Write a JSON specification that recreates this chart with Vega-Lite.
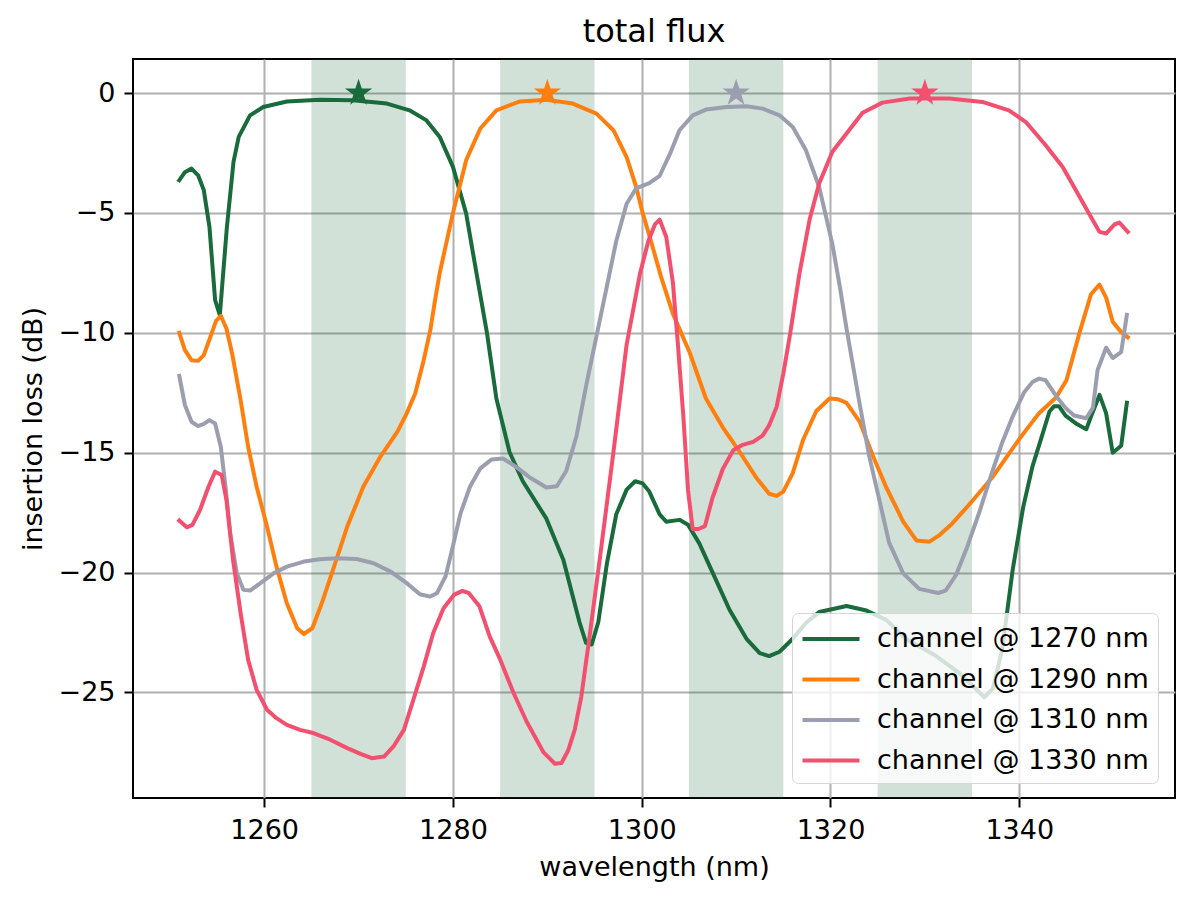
{
  "$schema": "https://vega.github.io/schema/vega-lite/v6.json",
  "width": 1042,
  "height": 739,
  "autosize": {"type": "none"},
  "padding": {"left": 133, "top": 59, "right": 18, "bottom": 103},
  "background": "white",
  "title": {"text": "total flux", "fontSize": 32, "font": "DejaVu Sans", "fontWeight": "normal", "color": "black", "anchor": "middle", "offset": 16, "dy": 31, "baseline": "alphabetic"},
  "config": {
    "font": "DejaVu Sans",
    "view": {"stroke": "black", "strokeWidth": 2},
    "axis": {"domain": false, "grid": true, "gridColor": "#b0b0b0", "gridWidth": 2, "tickColor": "black", "tickWidth": 2, "tickSize": 9, "labelFont": "DejaVu Sans", "labelFontSize": 27, "labelColor": "black", "titleFont": "DejaVu Sans", "titleFontSize": 27, "titleFontWeight": "normal", "titleColor": "black", "labelFlush": false, "labelOverlap": false},
    "axisX": {"labelPadding": 10, "titlePadding": 11},
    "axisY": {"labelPadding": 9, "titlePadding": 11}
  },
  "datasets": {
    "bands": [
      {"start": 1265, "end": 1275},
      {"start": 1285, "end": 1295},
      {"start": 1305, "end": 1315},
      {"start": 1325, "end": 1335}
    ],
    "stars": [
      {"channel": "channel @ 1270 nm", "wl": 1270, "loss": 0},
      {"channel": "channel @ 1290 nm", "wl": 1290, "loss": 0},
      {"channel": "channel @ 1310 nm", "wl": 1310, "loss": 0},
      {"channel": "channel @ 1330 nm", "wl": 1330, "loss": 0}
    ],
    "curves": [
      {"channel": "channel @ 1270 nm", "wl": 1251.0, "loss": -3.64},
      {"channel": "channel @ 1270 nm", "wl": 1251.6, "loss": -3.3},
      {"channel": "channel @ 1270 nm", "wl": 1252.3, "loss": -3.15},
      {"channel": "channel @ 1270 nm", "wl": 1253.0, "loss": -3.43},
      {"channel": "channel @ 1270 nm", "wl": 1253.6, "loss": -4.05},
      {"channel": "channel @ 1270 nm", "wl": 1254.2, "loss": -5.58},
      {"channel": "channel @ 1270 nm", "wl": 1254.8, "loss": -8.64},
      {"channel": "channel @ 1270 nm", "wl": 1255.3, "loss": -9.26},
      {"channel": "channel @ 1270 nm", "wl": 1256.05, "loss": -5.58},
      {"channel": "channel @ 1270 nm", "wl": 1256.75, "loss": -2.87},
      {"channel": "channel @ 1270 nm", "wl": 1257.3, "loss": -1.83},
      {"channel": "channel @ 1270 nm", "wl": 1258.5, "loss": -0.93},
      {"channel": "channel @ 1270 nm", "wl": 1259.9, "loss": -0.58},
      {"channel": "channel @ 1270 nm", "wl": 1262.4, "loss": -0.35},
      {"channel": "channel @ 1270 nm", "wl": 1265.9, "loss": -0.28},
      {"channel": "channel @ 1270 nm", "wl": 1269.4, "loss": -0.3},
      {"channel": "channel @ 1270 nm", "wl": 1273.0, "loss": -0.44},
      {"channel": "channel @ 1270 nm", "wl": 1275.4, "loss": -0.72},
      {"channel": "channel @ 1270 nm", "wl": 1277.2, "loss": -1.14},
      {"channel": "channel @ 1270 nm", "wl": 1278.6, "loss": -1.83},
      {"channel": "channel @ 1270 nm", "wl": 1280.0, "loss": -3.08},
      {"channel": "channel @ 1270 nm", "wl": 1281.4, "loss": -5.03},
      {"channel": "channel @ 1270 nm", "wl": 1282.5, "loss": -7.53},
      {"channel": "channel @ 1270 nm", "wl": 1283.6, "loss": -10.0},
      {"channel": "channel @ 1270 nm", "wl": 1284.6, "loss": -12.74},
      {"channel": "channel @ 1270 nm", "wl": 1286.0, "loss": -14.98},
      {"channel": "channel @ 1270 nm", "wl": 1287.4, "loss": -16.19},
      {"channel": "channel @ 1270 nm", "wl": 1289.9, "loss": -17.75},
      {"channel": "channel @ 1270 nm", "wl": 1291.7, "loss": -19.47},
      {"channel": "channel @ 1270 nm", "wl": 1293.4, "loss": -22.06},
      {"channel": "channel @ 1270 nm", "wl": 1294.1, "loss": -22.93},
      {"channel": "channel @ 1270 nm", "wl": 1294.7, "loss": -23.0},
      {"channel": "channel @ 1270 nm", "wl": 1295.4, "loss": -22.06},
      {"channel": "channel @ 1270 nm", "wl": 1296.3, "loss": -19.65},
      {"channel": "channel @ 1270 nm", "wl": 1297.3, "loss": -17.57},
      {"channel": "channel @ 1270 nm", "wl": 1298.4, "loss": -16.54},
      {"channel": "channel @ 1270 nm", "wl": 1299.3, "loss": -16.19},
      {"channel": "channel @ 1270 nm", "wl": 1300.1, "loss": -16.28},
      {"channel": "channel @ 1270 nm", "wl": 1300.8, "loss": -16.62},
      {"channel": "channel @ 1270 nm", "wl": 1301.9, "loss": -17.57},
      {"channel": "channel @ 1270 nm", "wl": 1302.6, "loss": -17.88},
      {"channel": "channel @ 1270 nm", "wl": 1304.0, "loss": -17.8},
      {"channel": "channel @ 1270 nm", "wl": 1304.9, "loss": -18.0},
      {"channel": "channel @ 1270 nm", "wl": 1306.1, "loss": -18.78},
      {"channel": "channel @ 1270 nm", "wl": 1307.5, "loss": -19.99},
      {"channel": "channel @ 1270 nm", "wl": 1309.3, "loss": -21.55},
      {"channel": "channel @ 1270 nm", "wl": 1311.1, "loss": -22.76},
      {"channel": "channel @ 1270 nm", "wl": 1312.5, "loss": -23.36},
      {"channel": "channel @ 1270 nm", "wl": 1313.5, "loss": -23.48},
      {"channel": "channel @ 1270 nm", "wl": 1314.6, "loss": -23.3},
      {"channel": "channel @ 1270 nm", "wl": 1316.0, "loss": -22.76},
      {"channel": "channel @ 1270 nm", "wl": 1317.4, "loss": -22.1},
      {"channel": "channel @ 1270 nm", "wl": 1318.8, "loss": -21.64},
      {"channel": "channel @ 1270 nm", "wl": 1321.7, "loss": -21.39},
      {"channel": "channel @ 1270 nm", "wl": 1323.8, "loss": -21.58},
      {"channel": "channel @ 1270 nm", "wl": 1325.9, "loss": -21.97},
      {"channel": "channel @ 1270 nm", "wl": 1328.0, "loss": -22.76},
      {"channel": "channel @ 1270 nm", "wl": 1331.2, "loss": -23.48},
      {"channel": "channel @ 1270 nm", "wl": 1333.7, "loss": -24.2},
      {"channel": "channel @ 1270 nm", "wl": 1336.3, "loss": -25.2},
      {"channel": "channel @ 1270 nm", "wl": 1337.2, "loss": -24.84},
      {"channel": "channel @ 1270 nm", "wl": 1338.2, "loss": -23.19},
      {"channel": "channel @ 1270 nm", "wl": 1339.3, "loss": -19.89},
      {"channel": "channel @ 1270 nm", "wl": 1340.4, "loss": -17.3},
      {"channel": "channel @ 1270 nm", "wl": 1341.4, "loss": -15.57},
      {"channel": "channel @ 1270 nm", "wl": 1342.3, "loss": -14.43},
      {"channel": "channel @ 1270 nm", "wl": 1343.2, "loss": -13.28},
      {"channel": "channel @ 1270 nm", "wl": 1343.7, "loss": -13.06},
      {"channel": "channel @ 1270 nm", "wl": 1344.2, "loss": -13.06},
      {"channel": "channel @ 1270 nm", "wl": 1344.9, "loss": -13.45},
      {"channel": "channel @ 1270 nm", "wl": 1346.0, "loss": -13.78},
      {"channel": "channel @ 1270 nm", "wl": 1347.1, "loss": -14.02},
      {"channel": "channel @ 1270 nm", "wl": 1347.6, "loss": -13.49},
      {"channel": "channel @ 1270 nm", "wl": 1348.5, "loss": -12.59},
      {"channel": "channel @ 1270 nm", "wl": 1349.2, "loss": -13.35},
      {"channel": "channel @ 1270 nm", "wl": 1349.9, "loss": -15.0},
      {"channel": "channel @ 1270 nm", "wl": 1350.8, "loss": -14.71},
      {"channel": "channel @ 1270 nm", "wl": 1351.4, "loss": -12.92},

      {"channel": "channel @ 1290 nm", "wl": 1251.0, "loss": -10.0},
      {"channel": "channel @ 1290 nm", "wl": 1251.6, "loss": -10.72},
      {"channel": "channel @ 1290 nm", "wl": 1252.3, "loss": -11.14},
      {"channel": "channel @ 1290 nm", "wl": 1253.0, "loss": -11.17},
      {"channel": "channel @ 1290 nm", "wl": 1253.6, "loss": -10.93},
      {"channel": "channel @ 1290 nm", "wl": 1254.3, "loss": -10.17},
      {"channel": "channel @ 1290 nm", "wl": 1254.9, "loss": -9.5},
      {"channel": "channel @ 1290 nm", "wl": 1255.4, "loss": -9.29},
      {"channel": "channel @ 1290 nm", "wl": 1256.0, "loss": -9.82},
      {"channel": "channel @ 1290 nm", "wl": 1256.6, "loss": -10.86},
      {"channel": "channel @ 1290 nm", "wl": 1257.5, "loss": -12.8},
      {"channel": "channel @ 1290 nm", "wl": 1258.3, "loss": -14.75},
      {"channel": "channel @ 1290 nm", "wl": 1259.2, "loss": -16.42},
      {"channel": "channel @ 1290 nm", "wl": 1260.3, "loss": -18.08},
      {"channel": "channel @ 1290 nm", "wl": 1261.3, "loss": -19.75},
      {"channel": "channel @ 1290 nm", "wl": 1262.4, "loss": -21.28},
      {"channel": "channel @ 1290 nm", "wl": 1263.5, "loss": -22.32},
      {"channel": "channel @ 1290 nm", "wl": 1264.2, "loss": -22.56},
      {"channel": "channel @ 1290 nm", "wl": 1265.1, "loss": -22.32},
      {"channel": "channel @ 1290 nm", "wl": 1266.1, "loss": -21.28},
      {"channel": "channel @ 1290 nm", "wl": 1267.4, "loss": -19.75},
      {"channel": "channel @ 1290 nm", "wl": 1268.8, "loss": -18.08},
      {"channel": "channel @ 1290 nm", "wl": 1270.5, "loss": -16.42},
      {"channel": "channel @ 1290 nm", "wl": 1272.3, "loss": -15.17},
      {"channel": "channel @ 1290 nm", "wl": 1274.1, "loss": -14.13},
      {"channel": "channel @ 1290 nm", "wl": 1275.1, "loss": -13.36},
      {"channel": "channel @ 1290 nm", "wl": 1276.0, "loss": -12.53},
      {"channel": "channel @ 1290 nm", "wl": 1276.9, "loss": -11.14},
      {"channel": "channel @ 1290 nm", "wl": 1277.6, "loss": -9.89},
      {"channel": "channel @ 1290 nm", "wl": 1278.1, "loss": -8.64},
      {"channel": "channel @ 1290 nm", "wl": 1278.6, "loss": -7.5},
      {"channel": "channel @ 1290 nm", "wl": 1280.0, "loss": -5.0},
      {"channel": "channel @ 1290 nm", "wl": 1281.4, "loss": -2.8},
      {"channel": "channel @ 1290 nm", "wl": 1282.9, "loss": -1.48},
      {"channel": "channel @ 1290 nm", "wl": 1284.6, "loss": -0.72},
      {"channel": "channel @ 1290 nm", "wl": 1287.1, "loss": -0.35},
      {"channel": "channel @ 1290 nm", "wl": 1289.9, "loss": -0.28},
      {"channel": "channel @ 1290 nm", "wl": 1292.7, "loss": -0.44},
      {"channel": "channel @ 1290 nm", "wl": 1295.2, "loss": -0.86},
      {"channel": "channel @ 1290 nm", "wl": 1297.0, "loss": -1.55},
      {"channel": "channel @ 1290 nm", "wl": 1298.4, "loss": -2.67},
      {"channel": "channel @ 1290 nm", "wl": 1299.4, "loss": -3.9},
      {"channel": "channel @ 1290 nm", "wl": 1300.1, "loss": -5.0},
      {"channel": "channel @ 1290 nm", "wl": 1301.0, "loss": -6.2},
      {"channel": "channel @ 1290 nm", "wl": 1302.0, "loss": -7.6},
      {"channel": "channel @ 1290 nm", "wl": 1303.3, "loss": -9.2},
      {"channel": "channel @ 1290 nm", "wl": 1305.1, "loss": -10.84},
      {"channel": "channel @ 1290 nm", "wl": 1306.8, "loss": -12.74},
      {"channel": "channel @ 1290 nm", "wl": 1308.6, "loss": -13.95},
      {"channel": "channel @ 1290 nm", "wl": 1310.4, "loss": -14.98},
      {"channel": "channel @ 1290 nm", "wl": 1312.1, "loss": -16.02},
      {"channel": "channel @ 1290 nm", "wl": 1313.5, "loss": -16.71},
      {"channel": "channel @ 1290 nm", "wl": 1314.3, "loss": -16.8},
      {"channel": "channel @ 1290 nm", "wl": 1315.0, "loss": -16.62},
      {"channel": "channel @ 1290 nm", "wl": 1316.0, "loss": -15.85},
      {"channel": "channel @ 1290 nm", "wl": 1317.1, "loss": -14.46},
      {"channel": "channel @ 1290 nm", "wl": 1318.5, "loss": -13.26},
      {"channel": "channel @ 1290 nm", "wl": 1319.9, "loss": -12.74},
      {"channel": "channel @ 1290 nm", "wl": 1320.8, "loss": -12.77},
      {"channel": "channel @ 1290 nm", "wl": 1321.7, "loss": -12.92},
      {"channel": "channel @ 1290 nm", "wl": 1323.1, "loss": -13.71},
      {"channel": "channel @ 1290 nm", "wl": 1324.5, "loss": -15.14},
      {"channel": "channel @ 1290 nm", "wl": 1325.9, "loss": -16.44},
      {"channel": "channel @ 1290 nm", "wl": 1327.7, "loss": -17.87},
      {"channel": "channel @ 1290 nm", "wl": 1329.1, "loss": -18.66},
      {"channel": "channel @ 1290 nm", "wl": 1330.5, "loss": -18.71},
      {"channel": "channel @ 1290 nm", "wl": 1331.5, "loss": -18.45},
      {"channel": "channel @ 1290 nm", "wl": 1332.9, "loss": -17.95},
      {"channel": "channel @ 1290 nm", "wl": 1334.7, "loss": -17.16},
      {"channel": "channel @ 1290 nm", "wl": 1337.2, "loss": -16.0},
      {"channel": "channel @ 1290 nm", "wl": 1340.0, "loss": -14.43},
      {"channel": "channel @ 1290 nm", "wl": 1342.1, "loss": -13.35},
      {"channel": "channel @ 1290 nm", "wl": 1343.9, "loss": -12.7},
      {"channel": "channel @ 1290 nm", "wl": 1345.0, "loss": -11.98},
      {"channel": "channel @ 1290 nm", "wl": 1346.4, "loss": -9.97},
      {"channel": "channel @ 1290 nm", "wl": 1347.6, "loss": -8.39},
      {"channel": "channel @ 1290 nm", "wl": 1348.5, "loss": -7.99},
      {"channel": "channel @ 1290 nm", "wl": 1349.2, "loss": -8.53},
      {"channel": "channel @ 1290 nm", "wl": 1349.9, "loss": -9.54},
      {"channel": "channel @ 1290 nm", "wl": 1350.8, "loss": -9.97},
      {"channel": "channel @ 1290 nm", "wl": 1351.5, "loss": -10.19},

      {"channel": "channel @ 1310 nm", "wl": 1251.0, "loss": -11.79},
      {"channel": "channel @ 1310 nm", "wl": 1251.6, "loss": -13.01},
      {"channel": "channel @ 1310 nm", "wl": 1252.3, "loss": -13.71},
      {"channel": "channel @ 1310 nm", "wl": 1253.0, "loss": -13.89},
      {"channel": "channel @ 1310 nm", "wl": 1253.6, "loss": -13.8},
      {"channel": "channel @ 1310 nm", "wl": 1254.2, "loss": -13.64},
      {"channel": "channel @ 1310 nm", "wl": 1254.8, "loss": -13.78},
      {"channel": "channel @ 1310 nm", "wl": 1255.4, "loss": -14.75},
      {"channel": "channel @ 1310 nm", "wl": 1255.9, "loss": -16.42},
      {"channel": "channel @ 1310 nm", "wl": 1256.4, "loss": -18.36},
      {"channel": "channel @ 1310 nm", "wl": 1257.1, "loss": -20.03},
      {"channel": "channel @ 1310 nm", "wl": 1257.8, "loss": -20.72},
      {"channel": "channel @ 1310 nm", "wl": 1258.5, "loss": -20.75},
      {"channel": "channel @ 1310 nm", "wl": 1259.6, "loss": -20.44},
      {"channel": "channel @ 1310 nm", "wl": 1261.0, "loss": -20.03},
      {"channel": "channel @ 1310 nm", "wl": 1262.4, "loss": -19.75},
      {"channel": "channel @ 1310 nm", "wl": 1264.2, "loss": -19.54},
      {"channel": "channel @ 1310 nm", "wl": 1265.9, "loss": -19.44},
      {"channel": "channel @ 1310 nm", "wl": 1267.7, "loss": -19.4},
      {"channel": "channel @ 1310 nm", "wl": 1269.8, "loss": -19.43},
      {"channel": "channel @ 1310 nm", "wl": 1271.6, "loss": -19.61},
      {"channel": "channel @ 1310 nm", "wl": 1273.4, "loss": -19.96},
      {"channel": "channel @ 1310 nm", "wl": 1275.1, "loss": -20.44},
      {"channel": "channel @ 1310 nm", "wl": 1276.5, "loss": -20.9},
      {"channel": "channel @ 1310 nm", "wl": 1277.6, "loss": -21.0},
      {"channel": "channel @ 1310 nm", "wl": 1278.3, "loss": -20.86},
      {"channel": "channel @ 1310 nm", "wl": 1279.2, "loss": -20.17},
      {"channel": "channel @ 1310 nm", "wl": 1279.9, "loss": -19.06},
      {"channel": "channel @ 1310 nm", "wl": 1280.8, "loss": -17.53},
      {"channel": "channel @ 1310 nm", "wl": 1281.8, "loss": -16.42},
      {"channel": "channel @ 1310 nm", "wl": 1282.9, "loss": -15.65},
      {"channel": "channel @ 1310 nm", "wl": 1284.1, "loss": -15.28},
      {"channel": "channel @ 1310 nm", "wl": 1285.3, "loss": -15.24},
      {"channel": "channel @ 1310 nm", "wl": 1286.7, "loss": -15.59},
      {"channel": "channel @ 1310 nm", "wl": 1288.1, "loss": -16.02},
      {"channel": "channel @ 1310 nm", "wl": 1289.9, "loss": -16.45},
      {"channel": "channel @ 1310 nm", "wl": 1291.0, "loss": -16.4},
      {"channel": "channel @ 1310 nm", "wl": 1292.0, "loss": -15.76},
      {"channel": "channel @ 1310 nm", "wl": 1293.1, "loss": -14.29},
      {"channel": "channel @ 1310 nm", "wl": 1294.1, "loss": -12.22},
      {"channel": "channel @ 1310 nm", "wl": 1295.2, "loss": -10.15},
      {"channel": "channel @ 1310 nm", "wl": 1296.3, "loss": -8.07},
      {"channel": "channel @ 1310 nm", "wl": 1297.3, "loss": -6.17},
      {"channel": "channel @ 1310 nm", "wl": 1298.4, "loss": -4.62},
      {"channel": "channel @ 1310 nm", "wl": 1299.4, "loss": -3.98},
      {"channel": "channel @ 1310 nm", "wl": 1300.8, "loss": -3.76},
      {"channel": "channel @ 1310 nm", "wl": 1301.9, "loss": -3.45},
      {"channel": "channel @ 1310 nm", "wl": 1303.0, "loss": -2.53},
      {"channel": "channel @ 1310 nm", "wl": 1304.0, "loss": -1.55},
      {"channel": "channel @ 1310 nm", "wl": 1305.4, "loss": -0.93},
      {"channel": "channel @ 1310 nm", "wl": 1306.8, "loss": -0.69},
      {"channel": "channel @ 1310 nm", "wl": 1309.0, "loss": -0.58},
      {"channel": "channel @ 1310 nm", "wl": 1311.1, "loss": -0.55},
      {"channel": "channel @ 1310 nm", "wl": 1312.8, "loss": -0.65},
      {"channel": "channel @ 1310 nm", "wl": 1314.6, "loss": -0.93},
      {"channel": "channel @ 1310 nm", "wl": 1316.0, "loss": -1.42},
      {"channel": "channel @ 1310 nm", "wl": 1317.4, "loss": -2.39},
      {"channel": "channel @ 1310 nm", "wl": 1318.8, "loss": -3.92},
      {"channel": "channel @ 1310 nm", "wl": 1320.2, "loss": -6.3},
      {"channel": "channel @ 1310 nm", "wl": 1321.0, "loss": -8.1},
      {"channel": "channel @ 1310 nm", "wl": 1321.7, "loss": -9.83},
      {"channel": "channel @ 1310 nm", "wl": 1323.1, "loss": -12.99},
      {"channel": "channel @ 1310 nm", "wl": 1324.1, "loss": -15.14},
      {"channel": "channel @ 1310 nm", "wl": 1325.2, "loss": -17.01},
      {"channel": "channel @ 1310 nm", "wl": 1326.2, "loss": -18.74},
      {"channel": "channel @ 1310 nm", "wl": 1327.7, "loss": -20.03},
      {"channel": "channel @ 1310 nm", "wl": 1329.4, "loss": -20.68},
      {"channel": "channel @ 1310 nm", "wl": 1331.4, "loss": -20.85},
      {"channel": "channel @ 1310 nm", "wl": 1332.2, "loss": -20.75},
      {"channel": "channel @ 1310 nm", "wl": 1333.3, "loss": -20.1},
      {"channel": "channel @ 1310 nm", "wl": 1334.4, "loss": -19.02},
      {"channel": "channel @ 1310 nm", "wl": 1335.8, "loss": -17.44},
      {"channel": "channel @ 1310 nm", "wl": 1337.2, "loss": -15.72},
      {"channel": "channel @ 1310 nm", "wl": 1338.2, "loss": -14.57},
      {"channel": "channel @ 1310 nm", "wl": 1339.3, "loss": -13.49},
      {"channel": "channel @ 1310 nm", "wl": 1340.5, "loss": -12.49},
      {"channel": "channel @ 1310 nm", "wl": 1341.4, "loss": -12.05},
      {"channel": "channel @ 1310 nm", "wl": 1342.1, "loss": -11.91},
      {"channel": "channel @ 1310 nm", "wl": 1342.8, "loss": -11.98},
      {"channel": "channel @ 1310 nm", "wl": 1343.9, "loss": -12.63},
      {"channel": "channel @ 1310 nm", "wl": 1344.9, "loss": -13.13},
      {"channel": "channel @ 1310 nm", "wl": 1345.8, "loss": -13.45},
      {"channel": "channel @ 1310 nm", "wl": 1347.1, "loss": -13.56},
      {"channel": "channel @ 1310 nm", "wl": 1347.8, "loss": -13.13},
      {"channel": "channel @ 1310 nm", "wl": 1348.3, "loss": -11.55},
      {"channel": "channel @ 1310 nm", "wl": 1349.2, "loss": -10.62},
      {"channel": "channel @ 1310 nm", "wl": 1349.9, "loss": -11.05},
      {"channel": "channel @ 1310 nm", "wl": 1350.8, "loss": -10.8},
      {"channel": "channel @ 1310 nm", "wl": 1351.4, "loss": -9.25},

      {"channel": "channel @ 1330 nm", "wl": 1251.0, "loss": -17.83},
      {"channel": "channel @ 1330 nm", "wl": 1251.8, "loss": -18.11},
      {"channel": "channel @ 1330 nm", "wl": 1252.4, "loss": -18.01},
      {"channel": "channel @ 1330 nm", "wl": 1253.2, "loss": -17.39},
      {"channel": "channel @ 1330 nm", "wl": 1254.1, "loss": -16.42},
      {"channel": "channel @ 1330 nm", "wl": 1254.8, "loss": -15.79},
      {"channel": "channel @ 1330 nm", "wl": 1255.5, "loss": -15.93},
      {"channel": "channel @ 1330 nm", "wl": 1256.0, "loss": -16.97},
      {"channel": "channel @ 1330 nm", "wl": 1256.7, "loss": -19.47},
      {"channel": "channel @ 1330 nm", "wl": 1257.5, "loss": -21.69},
      {"channel": "channel @ 1330 nm", "wl": 1258.3, "loss": -23.64},
      {"channel": "channel @ 1330 nm", "wl": 1259.2, "loss": -24.89},
      {"channel": "channel @ 1330 nm", "wl": 1260.3, "loss": -25.72},
      {"channel": "channel @ 1330 nm", "wl": 1261.3, "loss": -26.07},
      {"channel": "channel @ 1330 nm", "wl": 1262.4, "loss": -26.35},
      {"channel": "channel @ 1330 nm", "wl": 1263.8, "loss": -26.56},
      {"channel": "channel @ 1330 nm", "wl": 1265.2, "loss": -26.69},
      {"channel": "channel @ 1330 nm", "wl": 1267.0, "loss": -26.97},
      {"channel": "channel @ 1330 nm", "wl": 1268.8, "loss": -27.32},
      {"channel": "channel @ 1330 nm", "wl": 1270.2, "loss": -27.56},
      {"channel": "channel @ 1330 nm", "wl": 1271.4, "loss": -27.74},
      {"channel": "channel @ 1330 nm", "wl": 1272.7, "loss": -27.67},
      {"channel": "channel @ 1330 nm", "wl": 1273.7, "loss": -27.25},
      {"channel": "channel @ 1330 nm", "wl": 1274.8, "loss": -26.56},
      {"channel": "channel @ 1330 nm", "wl": 1275.8, "loss": -25.31},
      {"channel": "channel @ 1330 nm", "wl": 1276.9, "loss": -23.92},
      {"channel": "channel @ 1330 nm", "wl": 1277.9, "loss": -22.53},
      {"channel": "channel @ 1330 nm", "wl": 1279.0, "loss": -21.49},
      {"channel": "channel @ 1330 nm", "wl": 1280.1, "loss": -20.93},
      {"channel": "channel @ 1330 nm", "wl": 1281.0, "loss": -20.76},
      {"channel": "channel @ 1330 nm", "wl": 1281.7, "loss": -20.86},
      {"channel": "channel @ 1330 nm", "wl": 1282.8, "loss": -21.4},
      {"channel": "channel @ 1330 nm", "wl": 1283.9, "loss": -22.67},
      {"channel": "channel @ 1330 nm", "wl": 1285.0, "loss": -23.62},
      {"channel": "channel @ 1330 nm", "wl": 1286.4, "loss": -25.0},
      {"channel": "channel @ 1330 nm", "wl": 1287.8, "loss": -26.21},
      {"channel": "channel @ 1330 nm", "wl": 1289.6, "loss": -27.5},
      {"channel": "channel @ 1330 nm", "wl": 1290.8, "loss": -27.97},
      {"channel": "channel @ 1330 nm", "wl": 1291.5, "loss": -27.94},
      {"channel": "channel @ 1330 nm", "wl": 1292.2, "loss": -27.42},
      {"channel": "channel @ 1330 nm", "wl": 1292.9, "loss": -26.56},
      {"channel": "channel @ 1330 nm", "wl": 1293.6, "loss": -25.17},
      {"channel": "channel @ 1330 nm", "wl": 1294.5, "loss": -22.58},
      {"channel": "channel @ 1330 nm", "wl": 1295.6, "loss": -19.3},
      {"channel": "channel @ 1330 nm", "wl": 1297.0, "loss": -14.98},
      {"channel": "channel @ 1330 nm", "wl": 1298.4, "loss": -10.49},
      {"channel": "channel @ 1330 nm", "wl": 1299.8, "loss": -7.56},
      {"channel": "channel @ 1330 nm", "wl": 1300.7, "loss": -6.17},
      {"channel": "channel @ 1330 nm", "wl": 1301.4, "loss": -5.48},
      {"channel": "channel @ 1330 nm", "wl": 1301.9, "loss": -5.28},
      {"channel": "channel @ 1330 nm", "wl": 1302.6, "loss": -6.0},
      {"channel": "channel @ 1330 nm", "wl": 1303.3, "loss": -7.9},
      {"channel": "channel @ 1330 nm", "wl": 1303.8, "loss": -10.32},
      {"channel": "channel @ 1330 nm", "wl": 1304.4, "loss": -13.43},
      {"channel": "channel @ 1330 nm", "wl": 1304.9, "loss": -16.54},
      {"channel": "channel @ 1330 nm", "wl": 1305.4, "loss": -18.18},
      {"channel": "channel @ 1330 nm", "wl": 1306.0, "loss": -18.18},
      {"channel": "channel @ 1330 nm", "wl": 1306.7, "loss": -18.06},
      {"channel": "channel @ 1330 nm", "wl": 1307.5, "loss": -16.88},
      {"channel": "channel @ 1330 nm", "wl": 1308.6, "loss": -15.67},
      {"channel": "channel @ 1330 nm", "wl": 1309.7, "loss": -14.9},
      {"channel": "channel @ 1330 nm", "wl": 1310.7, "loss": -14.67},
      {"channel": "channel @ 1330 nm", "wl": 1311.8, "loss": -14.55},
      {"channel": "channel @ 1330 nm", "wl": 1312.8, "loss": -14.29},
      {"channel": "channel @ 1330 nm", "wl": 1313.5, "loss": -13.86},
      {"channel": "channel @ 1330 nm", "wl": 1314.3, "loss": -13.08},
      {"channel": "channel @ 1330 nm", "wl": 1315.0, "loss": -11.7},
      {"channel": "channel @ 1330 nm", "wl": 1315.7, "loss": -10.1},
      {"channel": "channel @ 1330 nm", "wl": 1316.7, "loss": -7.55},
      {"channel": "channel @ 1330 nm", "wl": 1317.8, "loss": -5.25},
      {"channel": "channel @ 1330 nm", "wl": 1318.8, "loss": -3.77},
      {"channel": "channel @ 1330 nm", "wl": 1320.2, "loss": -2.45},
      {"channel": "channel @ 1330 nm", "wl": 1321.7, "loss": -1.69},
      {"channel": "channel @ 1330 nm", "wl": 1323.4, "loss": -0.82},
      {"channel": "channel @ 1330 nm", "wl": 1325.5, "loss": -0.4},
      {"channel": "channel @ 1330 nm", "wl": 1328.4, "loss": -0.23},
      {"channel": "channel @ 1330 nm", "wl": 1332.6, "loss": -0.23},
      {"channel": "channel @ 1330 nm", "wl": 1336.1, "loss": -0.37},
      {"channel": "channel @ 1330 nm", "wl": 1338.9, "loss": -0.72},
      {"channel": "channel @ 1330 nm", "wl": 1340.7, "loss": -1.21},
      {"channel": "channel @ 1330 nm", "wl": 1342.8, "loss": -2.18},
      {"channel": "channel @ 1330 nm", "wl": 1344.6, "loss": -3.08},
      {"channel": "channel @ 1330 nm", "wl": 1346.0, "loss": -4.05},
      {"channel": "channel @ 1330 nm", "wl": 1347.4, "loss": -5.03},
      {"channel": "channel @ 1330 nm", "wl": 1348.5, "loss": -5.79},
      {"channel": "channel @ 1330 nm", "wl": 1349.2, "loss": -5.86},
      {"channel": "channel @ 1330 nm", "wl": 1350.1, "loss": -5.48},
      {"channel": "channel @ 1330 nm", "wl": 1350.6, "loss": -5.4},
      {"channel": "channel @ 1330 nm", "wl": 1351.5, "loss": -5.79}
    ]
  },
  "layer": [
    {
      "data": {"name": "bands"},
      "mark": {"type": "rect", "color": "#1a6b3c", "opacity": 0.2},
      "encoding": {
        "x": {"field": "start", "type": "quantitative", "title": "wavelength (nm)", "scale": {"domain": [1246.1, 1356.5], "nice": false, "zero": false}, "axis": {"values": [1260, 1280, 1300, 1320, 1340], "format": "d"}},
        "x2": {"field": "end"}
      }
    },
    {
      "data": {"name": "curves"},
      "mark": {"type": "line", "strokeWidth": 4, "strokeJoin": "round", "strokeCap": "square"},
      "encoding": {
        "x": {"field": "wl", "type": "quantitative", "title": "wavelength (nm)"},
        "y": {"field": "loss", "type": "quantitative", "title": "insertion loss (dB)", "scale": {"domain": [-29.4, 1.42], "nice": false, "zero": false}, "axis": {"values": [-25, -20, -15, -10, -5, 0]}},
        "color": {
          "field": "channel", "type": "nominal",
          "scale": {"domain": ["channel @ 1270 nm", "channel @ 1290 nm", "channel @ 1310 nm", "channel @ 1330 nm"], "range": ["#1a6b3c", "#ff7f0e", "#9b9eae", "#f2506e"]},
          "legend": {"orient": "none", "legendX": 659, "legendY": 554, "title": null, "symbolType": "M-1.9,0L1.9,0", "symbolSize": 900, "symbolStrokeWidth": 4, "labelFontSize": 27, "labelFont": "DejaVu Sans", "labelColor": "black", "labelLimit": 0, "fillColor": "rgba(255,255,255,0.8)", "strokeColor": "#d6d6d6", "cornerRadius": 6, "padding": 9, "rowPadding": 10.5, "symbolOffset": 13, "labelOffset": 29}
        }
      }
    },
    {
      "data": {"name": "stars"},
      "mark": {"type": "point", "shape": "M0,-1L0.2245,-0.309L0.951,-0.309L0.363,0.118L0.588,0.809L0,0.382L-0.588,0.809L-0.363,0.118L-0.951,-0.309L-0.2245,-0.309Z", "size": 820, "filled": true, "opacity": 1},
      "encoding": {
        "x": {"field": "wl", "type": "quantitative", "title": "wavelength (nm)"},
        "y": {"field": "loss", "type": "quantitative", "title": "insertion loss (dB)"},
        "fill": {
          "field": "channel", "type": "nominal",
          "scale": {"domain": ["channel @ 1270 nm", "channel @ 1290 nm", "channel @ 1310 nm", "channel @ 1330 nm"], "range": ["#1a6b3c", "#ff7f0e", "#9b9eae", "#f2506e"]},
          "legend": null
        }
      }
    }
  ]
}
